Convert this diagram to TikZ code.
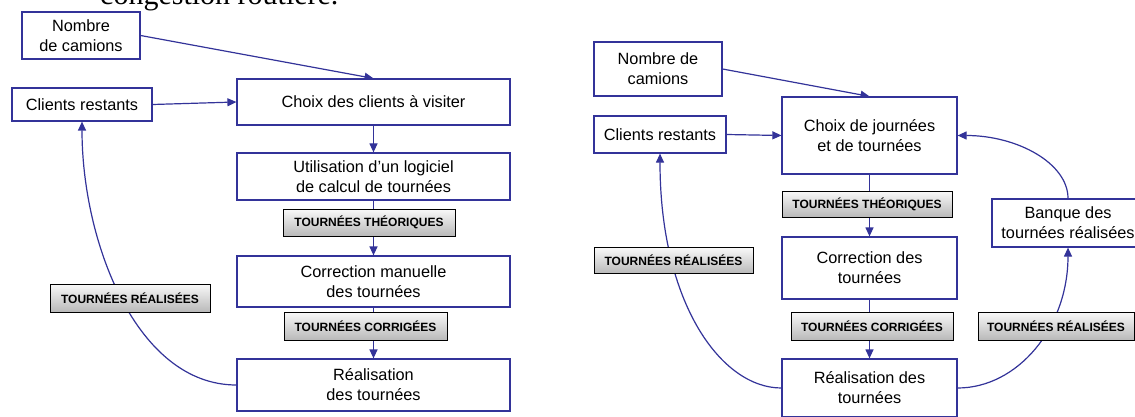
\documentclass[tikz,border=0pt]{standalone}
\usepackage{fontspec}
\setmainfont{Liberation Sans}
\newfontfamily\titlefont{Liberation Serif}
\usepackage{tikz}
\usetikzlibrary{arrows.meta, backgrounds}
\definecolor{flowblue}{RGB}{51,51,153}

\begin{document}
\begin{tikzpicture}[x=1pt, y=-1pt, >={Triangle[length=9pt,width=8pt]}, ->]
  \tikzstyle{box}=[draw=flowblue, line width=1.2pt, fill=white, align=center, inner sep=0pt, font=\fontsize{16.3}{20}\selectfont]
  \tikzstyle{tag}=[draw=black, line width=1pt, top color=gray!5, bottom color=gray!55, inner sep=0pt, font=\fontsize{12}{13}\selectfont\bfseries]
  \tikzstyle{link}=[draw=flowblue, line width=1.2pt]
  \useasboundingbox (0,0) rectangle (1135,417);
  \node[anchor=base west, inner sep=0pt, font=\titlefont\fontsize{30}{36}\selectfont] (titre) at (100,5) {congestion routière.};
  % left loop
  \node[box, minimum width=118pt, minimum height=47pt] (nombre_L) at (81,35.5) {Nombre\\de camions};
  \node[box, minimum width=140pt, minimum height=33pt] (clients_L) at (82,104.5) {Clients restants};
  \node[box, minimum width=273pt, minimum height=46pt] (choix_L) at (373.5,102) {Choix des clients à visiter};
  \node[box, minimum width=273pt, minimum height=47pt] (util_L) at (373.5,176.5) {Utilisation d’un logiciel\\de calcul de tournées};
  \node[tag, minimum width=172pt, minimum height=27pt] (theo_L) at (369,222.5) {TOURNÉES THÉORIQUES};
  \node[box, minimum width=273pt, minimum height=51pt] (corr_L) at (373.5,281.5) {Correction manuelle\\des tournées};
  \node[tag, minimum width=163pt, minimum height=28pt] (corrig_L) at (365.5,326) {TOURNÉES CORRIGÉES};
  \node[box, minimum width=273pt, minimum height=52pt] (real_L) at (373.5,385) {Réalisation\\des tournées};
  \node[tag, minimum width=160pt, minimum height=28pt] (realisees_L) at (130,298) {TOURNÉES RÉALISÉES};
  % right loop
  \node[box, minimum width=128pt, minimum height=54pt] (nombre_R) at (658,69) {Nombre de\\camions};
  \node[box, minimum width=132pt, minimum height=37pt] (clients_R) at (660,134.5) {Clients restants};
  \node[box, minimum width=175pt, minimum height=77pt] (choix_R) at (869.5,135.5) {Choix de journées\\et de tournées};
  \node[tag, minimum width=170pt, minimum height=26pt] (theo_R) at (867,204) {TOURNÉES THÉORIQUES};
  \node[box, minimum width=175pt, minimum height=62pt] (corr_R) at (869.5,268) {Correction des\\tournées};
  \node[tag, minimum width=162pt, minimum height=28pt] (corrig_R) at (872,326) {TOURNÉES CORRIGÉES};
  \node[box, minimum width=175pt, minimum height=58pt] (real_R) at (869.5,388) {Réalisation des\\tournées};
  \node[tag, minimum width=159pt, minimum height=26pt] (realisees_RL) at (673.5,260.5) {TOURNÉES RÉALISÉES};
  \node[box, minimum width=152pt, minimum height=48pt] (banque_R) at (1068,223) {Banque des\\tournées réalisées};
  \node[tag, minimum width=156pt, minimum height=28pt] (realisees_RR) at (1056,326) {TOURNÉES RÉALISÉES};
  \begin{pgfonlayer}{background}
    \draw[link] (nombre_L.east) -- (choix_L.north);
    \draw[link] (clients_L.east) -- (choix_L.west);
    \draw[link] (choix_L.south) -- (util_L.north);
    \draw[link] (util_L.south) -- (corr_L.north);
    \draw[link] (corr_L.south) -- (real_L.north);
    \draw[link] (real_L.west) .. controls +(-100,0) and +(0,120) .. (clients_L.south);
    \draw[link] (nombre_R.east) -- (choix_R.north);
    \draw[link] (clients_R.east) -- (choix_R.west);
    \draw[link] (choix_R.south) -- (corr_R.north);
    \draw[link] (corr_R.south) -- (real_R.north);
    \draw[link] (real_R.west) .. controls +(-60,0) and +(0,150) .. (clients_R.south);
    \draw[link] (real_R.east) .. controls +(60,0) and +(0,80) .. (banque_R.south);
    \draw[link] (banque_R.north) .. controls +(0,-35) and +(60,0) .. (choix_R.east);
  \end{pgfonlayer}
\end{tikzpicture}
\end{document}
